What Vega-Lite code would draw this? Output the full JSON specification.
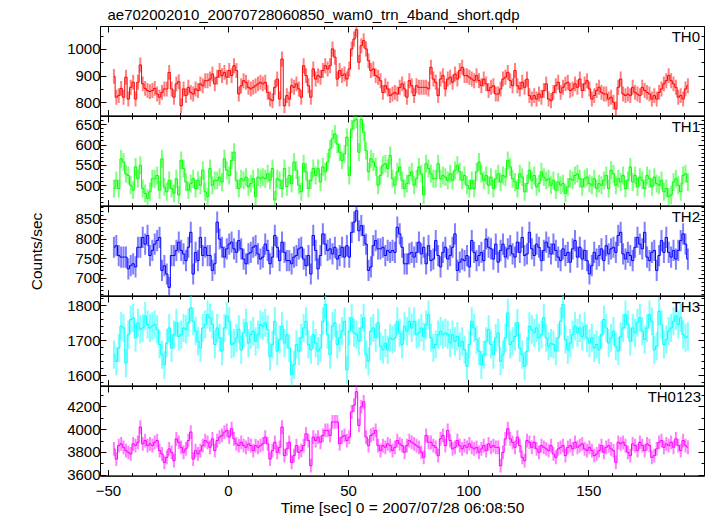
{
"$schema":"https://vega.github.io/schema/vega-lite/v6.json",
"padding":{"left":28,"top":7,"right":5,"bottom":0},
"title":{"text":"ae702002010_20070728060850_wam0_trn_4band_short.qdp","anchor":"start","fontSize":15,"fontWeight":"normal","font":"Liberation Sans","color":"black","dx":79,"offset":2.5},
"datasets":{
"errs":[{"key":"a","err":28},{"key":"b","err":22},{"key":"c","err":27},{"key":"d","err":40},{"key":"e","err":60}],
"rows":[
{"t":-47.5,"a":897,"b":492,"c":778,"d":1659,"e":3827},
{"t":-46.5,"a":819,"b":512,"c":782,"d":1640,"e":3738},
{"t":-45.5,"a":825,"b":492,"c":757,"d":1678,"e":3856},
{"t":-44.5,"a":852,"b":565,"c":753,"d":1740,"e":3871},
{"t":-43.5,"a":819,"b":557,"c":753,"d":1735,"e":3841},
{"t":-42.5,"a":894,"b":528,"c":753,"d":1635,"e":3812},
{"t":-41.5,"a":812,"b":524,"c":723,"d":1716,"e":3797},
{"t":-40.5,"a":856,"b":500,"c":731,"d":1759,"e":3783},
{"t":-39.5,"a":875,"b":488,"c":736,"d":1764,"e":3871},
{"t":-38.5,"a":812,"b":545,"c":728,"d":1707,"e":3856},
{"t":-37.5,"a":875,"b":516,"c":778,"d":1750,"e":3885},
{"t":-36.5,"a":940,"b":549,"c":778,"d":1731,"e":4018},
{"t":-35.5,"a":869,"b":492,"c":803,"d":1735,"e":3871},
{"t":-34.5,"a":852,"b":480,"c":786,"d":1769,"e":3900},
{"t":-33.5,"a":844,"b":468,"c":808,"d":1745,"e":3856},
{"t":-32.5,"a":840,"b":484,"c":757,"d":1735,"e":3871},
{"t":-31.5,"a":844,"b":516,"c":770,"d":1740,"e":3856},
{"t":-30.5,"a":852,"b":516,"c":786,"d":1745,"e":3885},
{"t":-29.5,"a":831,"b":524,"c":795,"d":1731,"e":3900},
{"t":-28.5,"a":819,"b":488,"c":803,"d":1688,"e":3812},
{"t":-27.5,"a":837,"b":565,"c":719,"d":1659,"e":3783},
{"t":-26.5,"a":850,"b":496,"c":731,"d":1630,"e":3709},
{"t":-25.5,"a":850,"b":484,"c":710,"d":1692,"e":3753},
{"t":-24.5,"a":912,"b":512,"c":676,"d":1735,"e":3827},
{"t":-23.5,"a":850,"b":492,"c":757,"d":1678,"e":3797},
{"t":-22.5,"a":819,"b":480,"c":757,"d":1716,"e":3724},
{"t":-21.5,"a":869,"b":516,"c":770,"d":1750,"e":3915},
{"t":-20.5,"a":877,"b":476,"c":791,"d":1711,"e":3885},
{"t":-19.5,"a":787,"b":561,"c":770,"d":1716,"e":3841},
{"t":-18.5,"a":850,"b":541,"c":761,"d":1735,"e":3797},
{"t":-17.5,"a":825,"b":508,"c":744,"d":1731,"e":3827},
{"t":-16.5,"a":856,"b":488,"c":778,"d":1750,"e":3900},
{"t":-15.5,"a":837,"b":504,"c":816,"d":1792,"e":3974},
{"t":-14.5,"a":831,"b":516,"c":710,"d":1754,"e":3738},
{"t":-13.5,"a":850,"b":492,"c":765,"d":1726,"e":3812},
{"t":-12.5,"a":844,"b":512,"c":744,"d":1697,"e":3783},
{"t":-11.5,"a":869,"b":500,"c":803,"d":1678,"e":3812},
{"t":-10.5,"a":862,"b":537,"c":757,"d":1735,"e":3856},
{"t":-9.5,"a":881,"b":484,"c":778,"d":1745,"e":3900},
{"t":-8.5,"a":881,"b":472,"c":757,"d":1773,"e":3885},
{"t":-7.5,"a":887,"b":541,"c":757,"d":1764,"e":3841},
{"t":-6.5,"a":906,"b":500,"c":719,"d":1745,"e":3915},
{"t":-5.5,"a":869,"b":512,"c":736,"d":1688,"e":3812},
{"t":-4.5,"a":894,"b":512,"c":842,"d":1735,"e":3900},
{"t":-3.5,"a":919,"b":520,"c":799,"d":1707,"e":3930},
{"t":-2.5,"a":900,"b":508,"c":778,"d":1669,"e":3944},
{"t":-1.5,"a":912,"b":565,"c":753,"d":1735,"e":3974},
{"t":-0.5,"a":894,"b":537,"c":774,"d":1769,"e":3988},
{"t":0.5,"a":919,"b":524,"c":786,"d":1754,"e":3930},
{"t":1.5,"a":900,"b":561,"c":791,"d":1688,"e":4003},
{"t":2.5,"a":937,"b":581,"c":774,"d":1692,"e":3915},
{"t":3.5,"a":919,"b":512,"c":765,"d":1707,"e":3871},
{"t":4.5,"a":831,"b":492,"c":795,"d":1731,"e":3856},
{"t":5.5,"a":862,"b":516,"c":774,"d":1673,"e":3885},
{"t":6.5,"a":881,"b":512,"c":748,"d":1721,"e":3856},
{"t":7.5,"a":875,"b":520,"c":736,"d":1750,"e":3841},
{"t":8.5,"a":856,"b":496,"c":761,"d":1692,"e":3871},
{"t":9.5,"a":850,"b":504,"c":765,"d":1716,"e":3856},
{"t":10.5,"a":856,"b":516,"c":778,"d":1726,"e":3812},
{"t":11.5,"a":862,"b":472,"c":782,"d":1697,"e":3856},
{"t":12.5,"a":869,"b":520,"c":761,"d":1716,"e":3841},
{"t":13.5,"a":875,"b":516,"c":748,"d":1745,"e":3856},
{"t":14.5,"a":869,"b":520,"c":753,"d":1740,"e":3871},
{"t":15.5,"a":875,"b":516,"c":786,"d":1750,"e":3930},
{"t":16.5,"a":837,"b":528,"c":770,"d":1731,"e":3871},
{"t":17.5,"a":812,"b":512,"c":736,"d":1654,"e":3738},
{"t":18.5,"a":806,"b":541,"c":753,"d":1688,"e":3812},
{"t":19.5,"a":856,"b":464,"c":808,"d":1754,"e":3885},
{"t":20.5,"a":887,"b":516,"c":778,"d":1669,"e":3797},
{"t":21.5,"a":812,"b":512,"c":744,"d":1702,"e":3841},
{"t":22.5,"a":962,"b":492,"c":791,"d":1740,"e":4018},
{"t":23.5,"a":787,"b":541,"c":765,"d":1692,"e":3768},
{"t":24.5,"a":825,"b":496,"c":744,"d":1716,"e":3827},
{"t":25.5,"a":812,"b":524,"c":744,"d":1678,"e":3885},
{"t":26.5,"a":862,"b":504,"c":736,"d":1602,"e":3709},
{"t":27.5,"a":856,"b":557,"c":753,"d":1630,"e":3768},
{"t":28.5,"a":869,"b":537,"c":757,"d":1688,"e":3856},
{"t":29.5,"a":850,"b":500,"c":774,"d":1669,"e":3797},
{"t":30.5,"a":819,"b":484,"c":778,"d":1707,"e":3812},
{"t":31.5,"a":937,"b":553,"c":748,"d":1735,"e":3856},
{"t":32.5,"a":900,"b":533,"c":731,"d":1754,"e":3959},
{"t":33.5,"a":862,"b":492,"c":757,"d":1688,"e":3900},
{"t":34.5,"a":819,"b":512,"c":710,"d":1673,"e":3680},
{"t":35.5,"a":925,"b":541,"c":808,"d":1716,"e":3930},
{"t":36.5,"a":887,"b":524,"c":770,"d":1692,"e":3900},
{"t":37.5,"a":900,"b":541,"c":723,"d":1669,"e":3930},
{"t":38.5,"a":894,"b":508,"c":757,"d":1678,"e":3885},
{"t":39.5,"a":919,"b":545,"c":812,"d":1754,"e":3944},
{"t":40.5,"a":937,"b":533,"c":786,"d":1802,"e":3988},
{"t":41.5,"a":925,"b":557,"c":770,"d":1716,"e":3988},
{"t":42.5,"a":937,"b":589,"c":774,"d":1659,"e":3944},
{"t":43.5,"a":1000,"b":614,"c":761,"d":1740,"e":4062},
{"t":44.5,"a":969,"b":626,"c":778,"d":1750,"e":4062},
{"t":45.5,"a":887,"b":601,"c":748,"d":1688,"e":4062},
{"t":46.5,"a":919,"b":581,"c":757,"d":1707,"e":3871},
{"t":47.5,"a":900,"b":561,"c":778,"d":1726,"e":3930},
{"t":48.5,"a":906,"b":577,"c":753,"d":1754,"e":3944},
{"t":49.5,"a":887,"b":618,"c":782,"d":1616,"e":3900},
{"t":50.5,"a":925,"b":524,"c":753,"d":1726,"e":3930},
{"t":51.5,"a":1000,"b":638,"c":816,"d":1764,"e":4150},
{"t":52.5,"a":1037,"b":658,"c":842,"d":1721,"e":4209},
{"t":53.5,"a":1072,"b":662,"c":871,"d":1716,"e":4326},
{"t":54.5,"a":950,"b":581,"c":820,"d":1697,"e":4032},
{"t":55.5,"a":1012,"b":662,"c":833,"d":1735,"e":4194},
{"t":56.5,"a":1031,"b":630,"c":808,"d":1764,"e":4238},
{"t":57.5,"a":1000,"b":585,"c":786,"d":1659,"e":3930},
{"t":58.5,"a":956,"b":533,"c":719,"d":1640,"e":3856},
{"t":59.5,"a":919,"b":565,"c":728,"d":1726,"e":3944},
{"t":60.5,"a":925,"b":557,"c":782,"d":1735,"e":3959},
{"t":61.5,"a":900,"b":545,"c":795,"d":1707,"e":3988},
{"t":62.5,"a":894,"b":500,"c":774,"d":1750,"e":3856},
{"t":63.5,"a":881,"b":524,"c":774,"d":1683,"e":3812},
{"t":64.5,"a":837,"b":549,"c":778,"d":1673,"e":3856},
{"t":65.5,"a":862,"b":553,"c":757,"d":1692,"e":3841},
{"t":66.5,"a":850,"b":541,"c":770,"d":1673,"e":3871},
{"t":67.5,"a":825,"b":573,"c":765,"d":1707,"e":3856},
{"t":68.5,"a":831,"b":516,"c":770,"d":1702,"e":3812},
{"t":69.5,"a":837,"b":500,"c":765,"d":1707,"e":3841},
{"t":70.5,"a":831,"b":533,"c":829,"d":1754,"e":3900},
{"t":71.5,"a":856,"b":545,"c":812,"d":1721,"e":3871},
{"t":72.5,"a":869,"b":512,"c":778,"d":1688,"e":3856},
{"t":73.5,"a":850,"b":492,"c":736,"d":1740,"e":3797},
{"t":74.5,"a":819,"b":504,"c":736,"d":1726,"e":3856},
{"t":75.5,"a":881,"b":524,"c":761,"d":1754,"e":3900},
{"t":76.5,"a":862,"b":533,"c":765,"d":1735,"e":3885},
{"t":77.5,"a":825,"b":500,"c":753,"d":1754,"e":3871},
{"t":78.5,"a":862,"b":516,"c":765,"d":1716,"e":3856},
{"t":79.5,"a":856,"b":545,"c":791,"d":1721,"e":3841},
{"t":80.5,"a":856,"b":528,"c":761,"d":1735,"e":3797},
{"t":81.5,"a":856,"b":476,"c":778,"d":1711,"e":3753},
{"t":82.5,"a":856,"b":553,"c":736,"d":1745,"e":3944},
{"t":83.5,"a":850,"b":541,"c":782,"d":1773,"e":3885},
{"t":84.5,"a":931,"b":528,"c":744,"d":1707,"e":3885},
{"t":85.5,"a":887,"b":516,"c":748,"d":1678,"e":3856},
{"t":86.5,"a":875,"b":516,"c":795,"d":1688,"e":3841},
{"t":87.5,"a":825,"b":553,"c":757,"d":1716,"e":3768},
{"t":88.5,"a":887,"b":516,"c":728,"d":1726,"e":3915},
{"t":89.5,"a":900,"b":524,"c":765,"d":1716,"e":3944},
{"t":90.5,"a":850,"b":520,"c":778,"d":1721,"e":3856},
{"t":91.5,"a":887,"b":512,"c":748,"d":1716,"e":3988},
{"t":92.5,"a":894,"b":528,"c":757,"d":1692,"e":3900},
{"t":93.5,"a":875,"b":512,"c":778,"d":1716,"e":3827},
{"t":94.5,"a":906,"b":537,"c":812,"d":1697,"e":3841},
{"t":95.5,"a":887,"b":549,"c":719,"d":1711,"e":3900},
{"t":96.5,"a":919,"b":533,"c":740,"d":1683,"e":3856},
{"t":97.5,"a":931,"b":512,"c":748,"d":1697,"e":3827},
{"t":98.5,"a":900,"b":524,"c":744,"d":1673,"e":3856},
{"t":99.5,"a":900,"b":500,"c":757,"d":1626,"e":3841},
{"t":100.5,"a":894,"b":492,"c":728,"d":1688,"e":3871},
{"t":101.5,"a":887,"b":512,"c":795,"d":1754,"e":3841},
{"t":102.5,"a":881,"b":492,"c":765,"d":1735,"e":3827},
{"t":103.5,"a":900,"b":533,"c":744,"d":1702,"e":3841},
{"t":104.5,"a":881,"b":557,"c":757,"d":1669,"e":3797},
{"t":105.5,"a":862,"b":528,"c":765,"d":1630,"e":3827},
{"t":106.5,"a":887,"b":512,"c":744,"d":1659,"e":3856},
{"t":107.5,"a":869,"b":524,"c":799,"d":1697,"e":3812},
{"t":108.5,"a":844,"b":500,"c":778,"d":1731,"e":3871},
{"t":109.5,"a":856,"b":520,"c":774,"d":1688,"e":3841},
{"t":110.5,"a":862,"b":492,"c":748,"d":1659,"e":3856},
{"t":111.5,"a":831,"b":516,"c":786,"d":1707,"e":3841},
{"t":112.5,"a":831,"b":528,"c":740,"d":1721,"e":3841},
{"t":113.5,"a":850,"b":508,"c":770,"d":1640,"e":3680},
{"t":114.5,"a":887,"b":524,"c":786,"d":1659,"e":3797},
{"t":115.5,"a":894,"b":520,"c":753,"d":1707,"e":3915},
{"t":116.5,"a":912,"b":561,"c":774,"d":1778,"e":4003},
{"t":117.5,"a":881,"b":545,"c":782,"d":1688,"e":3915},
{"t":118.5,"a":862,"b":516,"c":761,"d":1697,"e":3885},
{"t":119.5,"a":919,"b":508,"c":753,"d":1711,"e":3841},
{"t":120.5,"a":862,"b":492,"c":791,"d":1750,"e":3930},
{"t":121.5,"a":850,"b":528,"c":765,"d":1678,"e":3856},
{"t":122.5,"a":875,"b":520,"c":803,"d":1659,"e":3753},
{"t":123.5,"a":856,"b":484,"c":757,"d":1626,"e":3724},
{"t":124.5,"a":887,"b":504,"c":761,"d":1669,"e":3900},
{"t":125.5,"a":825,"b":537,"c":816,"d":1740,"e":3885},
{"t":126.5,"a":812,"b":512,"c":774,"d":1731,"e":3841},
{"t":127.5,"a":825,"b":524,"c":757,"d":1721,"e":3885},
{"t":128.5,"a":812,"b":496,"c":786,"d":1735,"e":3827},
{"t":129.5,"a":831,"b":504,"c":778,"d":1707,"e":3797},
{"t":130.5,"a":819,"b":533,"c":744,"d":1716,"e":3856},
{"t":131.5,"a":844,"b":520,"c":770,"d":1764,"e":3841},
{"t":132.5,"a":869,"b":512,"c":791,"d":1707,"e":3827},
{"t":133.5,"a":812,"b":516,"c":778,"d":1683,"e":3812},
{"t":134.5,"a":806,"b":500,"c":761,"d":1692,"e":3856},
{"t":135.5,"a":837,"b":512,"c":786,"d":1688,"e":3783},
{"t":136.5,"a":862,"b":488,"c":770,"d":1669,"e":3753},
{"t":137.5,"a":875,"b":508,"c":753,"d":1707,"e":3827},
{"t":138.5,"a":837,"b":500,"c":744,"d":1754,"e":3841},
{"t":139.5,"a":856,"b":504,"c":774,"d":1802,"e":3856},
{"t":140.5,"a":869,"b":480,"c":757,"d":1702,"e":3768},
{"t":141.5,"a":875,"b":496,"c":765,"d":1673,"e":3841},
{"t":142.5,"a":844,"b":516,"c":740,"d":1692,"e":3856},
{"t":143.5,"a":850,"b":512,"c":774,"d":1716,"e":3827},
{"t":144.5,"a":869,"b":524,"c":795,"d":1740,"e":3885},
{"t":145.5,"a":856,"b":528,"c":753,"d":1721,"e":3841},
{"t":146.5,"a":887,"b":516,"c":778,"d":1735,"e":3856},
{"t":147.5,"a":844,"b":496,"c":748,"d":1711,"e":3871},
{"t":148.5,"a":869,"b":516,"c":770,"d":1740,"e":3827},
{"t":149.5,"a":881,"b":520,"c":744,"d":1707,"e":3812},
{"t":150.5,"a":850,"b":504,"c":710,"d":1692,"e":3841},
{"t":151.5,"a":812,"b":500,"c":731,"d":1707,"e":3812},
{"t":152.5,"a":825,"b":516,"c":765,"d":1678,"e":3768},
{"t":153.5,"a":844,"b":492,"c":748,"d":1688,"e":3783},
{"t":154.5,"a":856,"b":504,"c":757,"d":1673,"e":3812},
{"t":155.5,"a":837,"b":500,"c":774,"d":1716,"e":3856},
{"t":156.5,"a":831,"b":512,"c":744,"d":1759,"e":3797},
{"t":157.5,"a":831,"b":524,"c":782,"d":1735,"e":3841},
{"t":158.5,"a":812,"b":492,"c":761,"d":1692,"e":3856},
{"t":159.5,"a":819,"b":537,"c":774,"d":1707,"e":3827},
{"t":160.5,"a":800,"b":528,"c":778,"d":1726,"e":3812},
{"t":161.5,"a":775,"b":500,"c":765,"d":1683,"e":3709},
{"t":162.5,"a":856,"b":516,"c":808,"d":1669,"e":3885},
{"t":163.5,"a":887,"b":508,"c":816,"d":1711,"e":3871},
{"t":164.5,"a":831,"b":524,"c":761,"d":1735,"e":3885},
{"t":165.5,"a":825,"b":492,"c":748,"d":1773,"e":3856},
{"t":166.5,"a":831,"b":512,"c":765,"d":1745,"e":3797},
{"t":167.5,"a":825,"b":545,"c":757,"d":1697,"e":3768},
{"t":168.5,"a":856,"b":508,"c":744,"d":1735,"e":3871},
{"t":169.5,"a":837,"b":524,"c":778,"d":1721,"e":3856},
{"t":170.5,"a":831,"b":496,"c":803,"d":1750,"e":3812},
{"t":171.5,"a":825,"b":520,"c":786,"d":1764,"e":3885},
{"t":172.5,"a":856,"b":512,"c":774,"d":1726,"e":3856},
{"t":173.5,"a":844,"b":492,"c":816,"d":1702,"e":3812},
{"t":174.5,"a":837,"b":524,"c":753,"d":1735,"e":3871},
{"t":175.5,"a":831,"b":516,"c":744,"d":1773,"e":3856},
{"t":176.5,"a":812,"b":496,"c":765,"d":1754,"e":3753},
{"t":177.5,"a":825,"b":520,"c":770,"d":1673,"e":3768},
{"t":178.5,"a":812,"b":504,"c":719,"d":1683,"e":3827},
{"t":179.5,"a":837,"b":500,"c":757,"d":1783,"e":3885},
{"t":180.5,"a":850,"b":512,"c":795,"d":1745,"e":3900},
{"t":181.5,"a":869,"b":484,"c":765,"d":1688,"e":3841},
{"t":182.5,"a":881,"b":492,"c":803,"d":1702,"e":3871},
{"t":183.5,"a":900,"b":472,"c":765,"d":1726,"e":3856},
{"t":184.5,"a":881,"b":476,"c":753,"d":1735,"e":3885},
{"t":185.5,"a":869,"b":508,"c":770,"d":1754,"e":3841},
{"t":186.5,"a":856,"b":516,"c":748,"d":1769,"e":3915},
{"t":187.5,"a":819,"b":500,"c":770,"d":1745,"e":3856},
{"t":188.5,"a":825,"b":484,"c":795,"d":1764,"e":3812},
{"t":189.5,"a":812,"b":524,"c":812,"d":1716,"e":3900},
{"t":190.5,"a":850,"b":528,"c":786,"d":1707,"e":3856},
{"t":191.5,"a":862,"b":508,"c":748,"d":1711,"e":3841}
]},
"data":{"name":"rows"},
"transform":[
{"fold":["a","b","c","d","e"],"as":["key","value"]},
{"lookup":"key","from":{"data":{"name":"errs"},"key":"key","fields":["err"]}}
],
"spacing":0,
"bounds":"flush",
"vconcat":[
{"width":604,"height":89.6,
"title":{"text":"TH0","anchor":"end","frame":"group","offset":-19,"dx":-4},
"transform":[{"filter":"datum.key === 'a'"}],
"layer":[
{"mark":{"type":"errorbar","color":"#ff0000","opacity":0.5,"thickness":2,"clip":true},
"encoding":{
"x":{"field":"t","type":"quantitative","scale":{"domain":[-53.3,198.2],"nice":false,"zero":false},"axis":{"orient":"bottom","values":[-50,-40,-30,-20,-10,0,10,20,30,40,50,60,70,80,90,100,110,120,130,140,150,160,170,180,190],"labels":false,"title":null,"tickSize":{"condition":{"test":"datum.value % 50 === 0","value":-6},"value":-3}}},
"y":{"field":"value","type":"quantitative","scale":{"domain":[750,1086],"nice":false,"zero":false},"axis":{"orient":"left","values":[750,800,850,900,950,1000,1050],"format":"d","labelExpr":"datum.value % 100 === 0 ? datum.label : ''","title":null,"labelPadding":6,"tickSize":{"condition":{"test":"datum.value % 100 === 0","value":-6},"value":-3}}},
"yError":{"field":"err"}}},
{"mark":{"type":"line","interpolate":"step","color":"#ff0000","strokeWidth":1,"clip":true},
"encoding":{
"x":{"field":"t","type":"quantitative","axis":{"orient":"top","values":[-50,-40,-30,-20,-10,0,10,20,30,40,50,60,70,80,90,100,110,120,130,140,150,160,170,180,190],"labels":false,"title":null,"tickSize":{"condition":{"test":"datum.value % 50 === 0","value":-6},"value":-3}}},
"y":{"field":"value","type":"quantitative","axis":{"orient":"right","values":[750,800,850,900,950,1000,1050],"labels":false,"title":null,"tickSize":{"condition":{"test":"datum.value % 100 === 0","value":-6},"value":-3}}}}}
],
"resolve":{"axis":{"x":"independent","y":"independent"}}},
{"width":604,"height":89.6,
"title":{"text":"TH1","anchor":"end","frame":"group","offset":-19,"dx":-4},
"transform":[{"filter":"datum.key === 'b'"}],
"layer":[
{"mark":{"type":"errorbar","color":"#00ff00","opacity":0.5,"thickness":2,"clip":true},
"encoding":{
"x":{"field":"t","type":"quantitative","scale":{"domain":[-53.3,198.2],"nice":false,"zero":false},"axis":{"orient":"bottom","values":[-50,-40,-30,-20,-10,0,10,20,30,40,50,60,70,80,90,100,110,120,130,140,150,160,170,180,190],"labels":false,"title":null,"tickSize":{"condition":{"test":"datum.value % 50 === 0","value":-6},"value":-3}}},
"y":{"field":"value","type":"quantitative","scale":{"domain":[450,670],"nice":false,"zero":false},"axis":{"orient":"left","values":[460,470,480,490,500,510,520,530,540,550,560,570,580,590,600,610,620,630,640,650,660,670],"format":"d","labelExpr":"datum.value % 50 === 0 ? datum.label : ''","title":null,"labelPadding":6,"tickSize":{"condition":{"test":"datum.value % 50 === 0","value":-6},"value":-3}}},
"yError":{"field":"err"}}},
{"mark":{"type":"line","interpolate":"step","color":"#00ff00","strokeWidth":1,"clip":true},
"encoding":{
"x":{"field":"t","type":"quantitative","axis":{"orient":"top","values":[-50,-40,-30,-20,-10,0,10,20,30,40,50,60,70,80,90,100,110,120,130,140,150,160,170,180,190],"labels":false,"title":null,"tickSize":{"condition":{"test":"datum.value % 50 === 0","value":-6},"value":-3}}},
"y":{"field":"value","type":"quantitative","axis":{"orient":"right","values":[460,470,480,490,500,510,520,530,540,550,560,570,580,590,600,610,620,630,640,650,660,670],"labels":false,"title":null,"tickSize":{"condition":{"test":"datum.value % 50 === 0","value":-6},"value":-3}}}}}
],
"resolve":{"axis":{"x":"independent","y":"independent"}}},
{"width":604,"height":89.6,
"title":{"text":"TH2","anchor":"end","frame":"group","offset":-19,"dx":-4},
"transform":[{"filter":"datum.key === 'c'"}],
"layer":[
{"mark":{"type":"errorbar","color":"#0000ff","opacity":0.5,"thickness":2,"clip":true},
"encoding":{
"x":{"field":"t","type":"quantitative","scale":{"domain":[-53.3,198.2],"nice":false,"zero":false},"axis":{"orient":"bottom","values":[-50,-40,-30,-20,-10,0,10,20,30,40,50,60,70,80,90,100,110,120,130,140,150,160,170,180,190],"labels":false,"title":null,"tickSize":{"condition":{"test":"datum.value % 50 === 0","value":-6},"value":-3}}},
"y":{"field":"value","type":"quantitative","scale":{"domain":[655,883],"nice":false,"zero":false},"axis":{"orient":"left","values":[660,670,680,690,700,710,720,730,740,750,760,770,780,790,800,810,820,830,840,850,860,870,880],"format":"d","labelExpr":"datum.value % 50 === 0 ? datum.label : ''","title":"Counts/sec","titleFontSize":15.5,"titleX":-56,"titleY":45,"labelPadding":6,"tickSize":{"condition":{"test":"datum.value % 50 === 0","value":-6},"value":-3}}},
"yError":{"field":"err"}}},
{"mark":{"type":"line","interpolate":"step","color":"#0000ff","strokeWidth":1,"clip":true},
"encoding":{
"x":{"field":"t","type":"quantitative","axis":{"orient":"top","values":[-50,-40,-30,-20,-10,0,10,20,30,40,50,60,70,80,90,100,110,120,130,140,150,160,170,180,190],"labels":false,"title":null,"tickSize":{"condition":{"test":"datum.value % 50 === 0","value":-6},"value":-3}}},
"y":{"field":"value","type":"quantitative","axis":{"orient":"right","values":[660,670,680,690,700,710,720,730,740,750,760,770,780,790,800,810,820,830,840,850,860,870,880],"labels":false,"title":null,"tickSize":{"condition":{"test":"datum.value % 50 === 0","value":-6},"value":-3}}}}}
],
"resolve":{"axis":{"x":"independent","y":"independent"}}},
{"width":604,"height":89.6,
"title":{"text":"TH3","anchor":"end","frame":"group","offset":-19,"dx":-4},
"transform":[{"filter":"datum.key === 'd'"}],
"layer":[
{"mark":{"type":"errorbar","color":"#00ffff","opacity":0.5,"thickness":2,"clip":true},
"encoding":{
"x":{"field":"t","type":"quantitative","scale":{"domain":[-53.3,198.2],"nice":false,"zero":false},"axis":{"orient":"bottom","values":[-50,-40,-30,-20,-10,0,10,20,30,40,50,60,70,80,90,100,110,120,130,140,150,160,170,180,190],"labels":false,"title":null,"tickSize":{"condition":{"test":"datum.value % 50 === 0","value":-6},"value":-3}}},
"y":{"field":"value","type":"quantitative","scale":{"domain":[1571,1826],"nice":false,"zero":false},"axis":{"orient":"left","values":[1580,1600,1620,1640,1660,1680,1700,1720,1740,1760,1780,1800,1820],"format":"d","labelExpr":"datum.value % 100 === 0 ? datum.label : ''","title":null,"labelPadding":6,"tickSize":{"condition":{"test":"datum.value % 100 === 0","value":-6},"value":-3}}},
"yError":{"field":"err"}}},
{"mark":{"type":"line","interpolate":"step","color":"#00ffff","strokeWidth":1,"clip":true},
"encoding":{
"x":{"field":"t","type":"quantitative","axis":{"orient":"top","values":[-50,-40,-30,-20,-10,0,10,20,30,40,50,60,70,80,90,100,110,120,130,140,150,160,170,180,190],"labels":false,"title":null,"tickSize":{"condition":{"test":"datum.value % 50 === 0","value":-6},"value":-3}}},
"y":{"field":"value","type":"quantitative","axis":{"orient":"right","values":[1580,1600,1620,1640,1660,1680,1700,1720,1740,1760,1780,1800,1820],"labels":false,"title":null,"tickSize":{"condition":{"test":"datum.value % 100 === 0","value":-6},"value":-3}}}}}
],
"resolve":{"axis":{"x":"independent","y":"independent"}}},
{"width":604,"height":89.6,
"title":{"text":"TH0123","anchor":"end","frame":"group","offset":-19,"dx":-3},
"transform":[{"filter":"datum.key === 'e'"}],
"layer":[
{"mark":{"type":"errorbar","color":"#ff00ff","opacity":0.5,"thickness":2,"clip":true},
"encoding":{
"x":{"field":"t","type":"quantitative","scale":{"domain":[-53.3,198.2],"nice":false,"zero":false},"axis":{"orient":"bottom","values":[-50,-40,-30,-20,-10,0,10,20,30,40,50,60,70,80,90,100,110,120,130,140,150,160,170,180,190],"format":"d","labelExpr":"datum.value % 50 === 0 ? datum.label : ''","title":"Time [sec] 0 = 2007/07/28 06:08:50","titleFontSize":15.5,"labelPadding":14,"titlePadding":2,"tickSize":{"condition":{"test":"datum.value % 50 === 0","value":-6},"value":-3}}},
"y":{"field":"value","type":"quantitative","scale":{"domain":[3594,4376],"nice":false,"zero":false},"axis":{"orient":"left","values":[3600,3700,3800,3900,4000,4100,4200,4300],"format":"d","labelExpr":"datum.value % 200 === 0 ? datum.label : ''","title":null,"labelPadding":6,"tickSize":{"condition":{"test":"datum.value % 200 === 0","value":-6},"value":-3}}},
"yError":{"field":"err"}}},
{"mark":{"type":"line","interpolate":"step","color":"#ff00ff","strokeWidth":1,"clip":true},
"encoding":{
"x":{"field":"t","type":"quantitative","axis":{"orient":"top","values":[-50,-40,-30,-20,-10,0,10,20,30,40,50,60,70,80,90,100,110,120,130,140,150,160,170,180,190],"labels":false,"title":null,"tickSize":{"condition":{"test":"datum.value % 50 === 0","value":-6},"value":-3}}},
"y":{"field":"value","type":"quantitative","axis":{"orient":"right","values":[3600,3700,3800,3900,4000,4100,4200,4300],"labels":false,"title":null,"tickSize":{"condition":{"test":"datum.value % 200 === 0","value":-6},"value":-3}}}}}
],
"resolve":{"axis":{"x":"independent","y":"independent"}}}
],
"config":{
"font":"Liberation Sans",
"view":{"stroke":"black","strokeWidth":1},
"axis":{"domainColor":"black","tickColor":"black","labelColor":"black","titleColor":"black","labelFontSize":15,"titleFontSize":15,"titleFontWeight":"normal","labelFont":"Liberation Sans","titleFont":"Liberation Sans","grid":false,"domainWidth":1,"tickWidth":1},
"title":{"fontSize":15,"fontWeight":"normal","font":"Liberation Sans","color":"black"}
}
}
